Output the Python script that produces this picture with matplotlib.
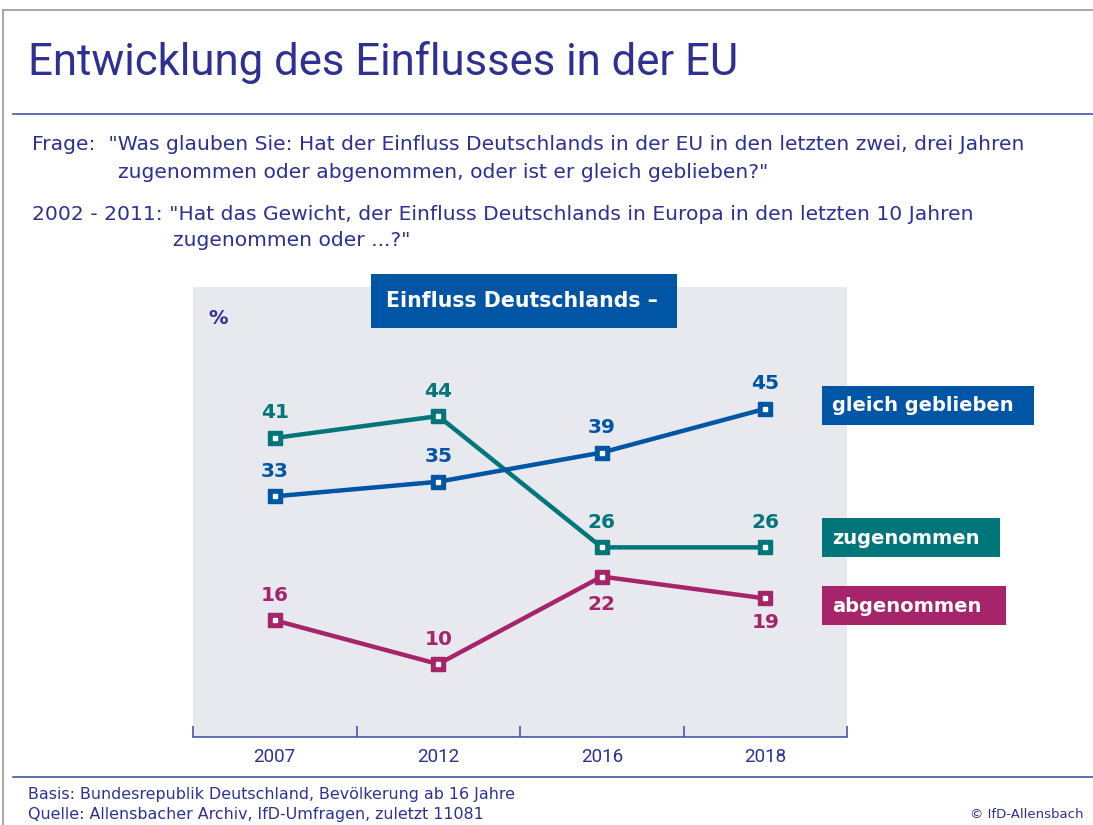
import matplotlib
matplotlib.use("Agg")
import matplotlib.pyplot as plt
from matplotlib.patches import Rectangle
from matplotlib.lines import Line2D

# Daten
jahre = ["2007", "2012", "2016", "2018"]
gleich_geblieben = [33, 35, 39, 45]
zugenommen = [41, 44, 26, 26]
abgenommen = [16, 10, 22, 19]

BLAU = "#0055a4"
TEAL = "#00767a"
MAGENTA = "#a6256a"
TEXT = "#2e3192"
GRAU = "#e8e8ef"

W, H = 1093, 825
plt.rcParams['font.family'] = ['DejaVu Sans']

fig = plt.figure(figsize=(W / 100, H / 100), dpi=100)


def px(x, y):
    return x / W, 1 - y / H


def ftext(x, y, s, **kw):
    fx, fy = px(x, y)
    return fig.text(fx, fy, s, **kw)


def fbox(x0, y0, x1, y1, color):
    fx0, fy1 = px(x0, y1)
    fig.patches.append(Rectangle((fx0, fy1), (x1 - x0) / W, (y1 - y0) / H,
                                 transform=fig.transFigure, facecolor=color,
                                 edgecolor="none", zorder=1))


def fline(x0, y0, x1, y1, color, lw=1.0):
    a, b = px(x0, y0)
    c, d = px(x1, y1)
    fig.lines.append(Line2D([a, c], [b, d], transform=fig.transFigure,
                            color=color, lw=lw))


# Rahmen
fline(3, 10, W, 10, "#9a9a9a", 1.2)
fline(3, 10, 3, H, "#9a9a9a", 1.2)

# Titel
ftext(28, 62, "Entwicklung des Einflusses in der EU", fontsize=31.5,
      family="Roboto", fontweight="normal", color=TEXT, va="center", ha="left")
fline(13, 114, W, 114, "#4b55a8", 1.2)

# Fragetext
fs_q = 14.6
ftext(32, 145, 'Frage:  "Was glauben Sie: Hat der Einfluss Deutschlands in der EU in den letzten zwei, drei Jahren',
      fontsize=fs_q, color=TEXT, va="center")
ftext(118, 172, 'zugenommen oder abgenommen, oder ist er gleich geblieben?"',
      fontsize=fs_q, color=TEXT, va="center")
ftext(32, 214, '2002 - 2011: "Hat das Gewicht, der Einfluss Deutschlands in Europa in den letzten 10 Jahren',
      fontsize=fs_q, color=TEXT, va="center")
ftext(173, 241, 'zugenommen oder ...?"', fontsize=fs_q, color=TEXT, va="center")

# Diagramm
ax = fig.add_axes([193 / W, 1 - 737 / H, (847 - 193) / W, (737 - 287) / H])
ax.set_facecolor(GRAU)
ax.set_xlim(-0.5, 3.5)
ax.set_ylim(0, 61.7)
for s in ["left", "right", "top"]:
    ax.spines[s].set_visible(False)
ax.spines["bottom"].set_color("#4b55a8")
ax.spines["bottom"].set_linewidth(1.2)
ax.set_yticks([])
x = list(range(len(jahre)))
ax.set_xticks(x)
ax.set_xticklabels(jahre, fontsize=13.5, color=TEXT, family="Roboto")
ax.tick_params(axis="x", which="major", length=0, pad=8)
ax.set_xticks([-0.5, 0.5, 1.5, 2.5, 3.5], minor=True)
ax.tick_params(axis="x", which="minor", direction="in", length=8,
               color="#4b55a8", width=1.2)

serien = [
    (zugenommen, TEAL, [18, 18, 18, 18]),
    (gleich_geblieben, BLAU, [18, 18, 18, 18]),
    (abgenommen, MAGENTA, [18, 18, -20, -17]),
]
for werte, farbe, offs in serien:
    ax.plot(x, werte, color=farbe, lw=3.2, marker="s", markersize=10,
            markerfacecolor=farbe, markeredgecolor=farbe, zorder=3)
    ax.plot(x, werte, ls="none", marker="s", markersize=2.2,
            markerfacecolor="white", markeredgecolor="white", zorder=4)
    for xi, v, o in zip(x, werte, offs):
        ax.annotate(str(v), (xi, v), xytext=(0, o), textcoords="offset points",
                    ha="center", va="center", fontsize=14.5, fontweight="bold",
                    color=farbe, zorder=5)

ftext(208, 318, "%", fontsize=14, fontweight="bold", color=TEXT,
      ha="left", va="center")

# Kasten oben
fbox(371, 274, 677, 328, BLAU)
ftext(386, 301, "Einfluss Deutschlands \u2013", fontsize=14.8, fontweight="bold",
      color="white", va="center", ha="left", zorder=2)

# Legende
fbox(822, 386, 1034, 425, BLAU)
ftext(832, 405, "gleich geblieben", fontsize=14, fontweight="bold",
      color="white", va="center", zorder=2)
fbox(822, 518, 1000, 557, TEAL)
ftext(832, 538, "zugenommen", fontsize=14, fontweight="bold",
      color="white", va="center", zorder=2)
fbox(822, 586, 1006, 625, MAGENTA)
ftext(832, 606, "abgenommen", fontsize=14, fontweight="bold",
      color="white", va="center", zorder=2)

# Fußzeile
fline(13, 777, W, 777, "#4b55a8", 1.2)
ftext(28, 795, "Basis: Bundesrepublik Deutschland, Bevölkerung ab 16 Jahre",
      fontsize=11.4, color=TEXT, va="center")
ftext(28, 815, "Quelle: Allensbacher Archiv, IfD-Umfragen, zuletzt 11081",
      fontsize=11.4, color=TEXT, va="center")
ftext(1083, 815, "© IfD-Allensbach", fontsize=9.5, color=TEXT, va="center",
      ha="right")

fig.savefig("out.png", dpi=100)
